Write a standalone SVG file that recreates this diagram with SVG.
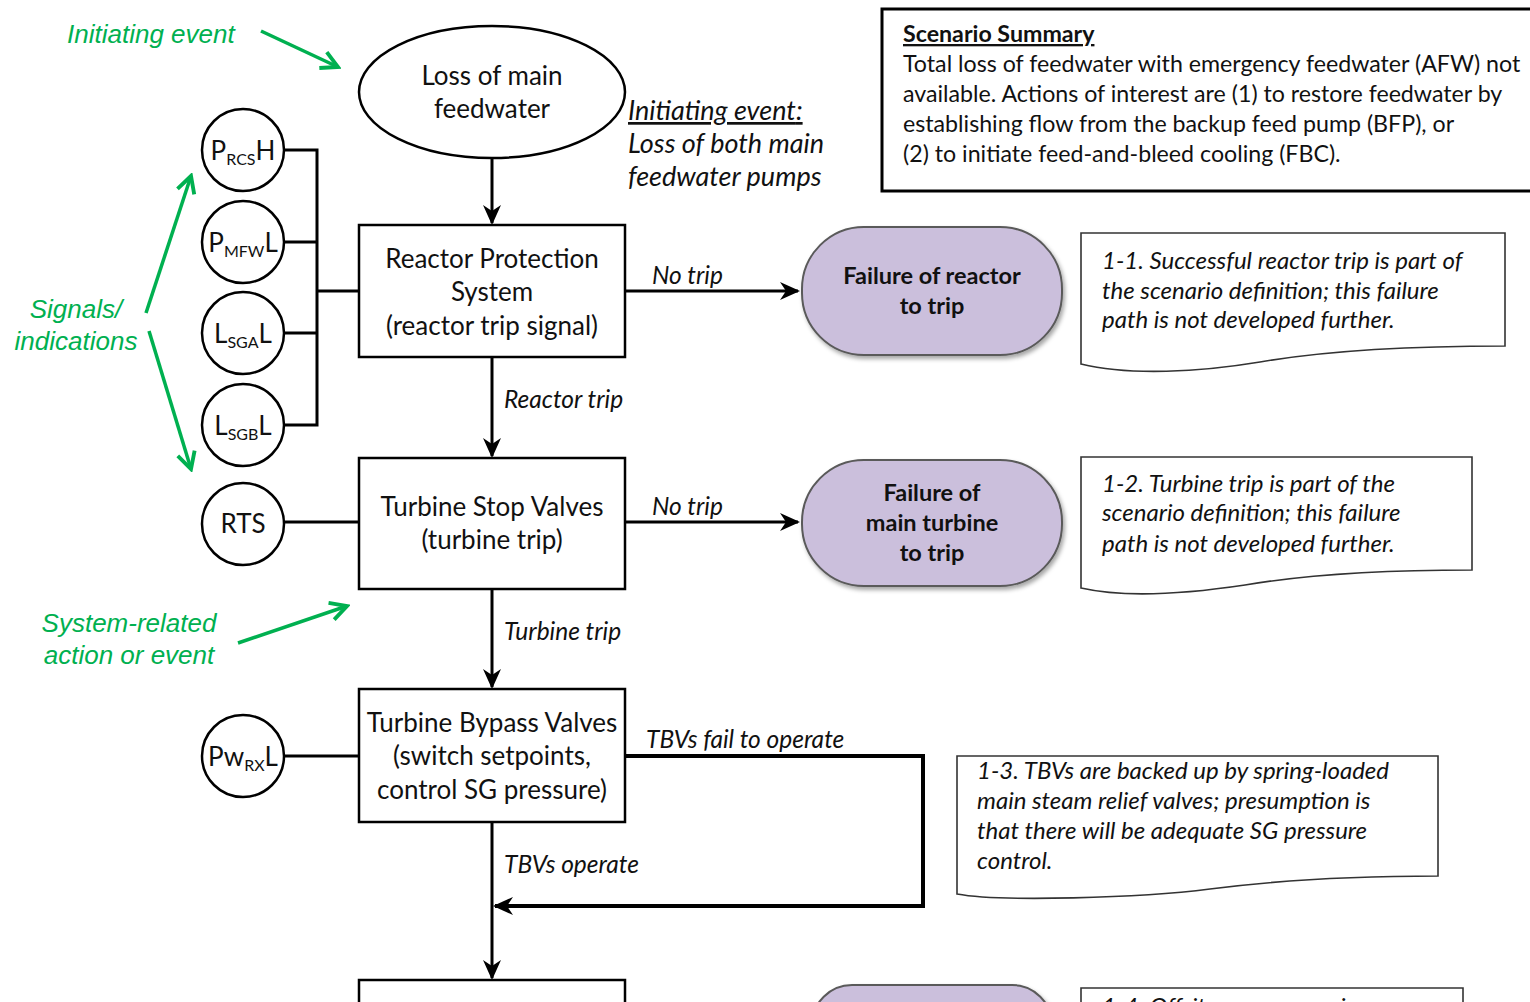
<svg xmlns="http://www.w3.org/2000/svg" width="1530" height="1002" viewBox="0 0 1530 1002">
  <defs>
    <marker id="arr" viewBox="0 0 20 20" refX="18" refY="10" markerWidth="20" markerHeight="20" markerUnits="userSpaceOnUse" orient="auto">
      <path d="M0,1 L20,10 L0,19 L6,10 Z" fill="#000"/>
    </marker>
    <marker id="garr" viewBox="0 0 20 20" refX="17" refY="10" markerWidth="22" markerHeight="22" markerUnits="userSpaceOnUse" orient="auto">
      <path d="M2,2 L17,10 L2,18" fill="none" stroke="#00b050" stroke-width="3.5"/>
    </marker>
    <filter id="shadow" x="-10%" y="-10%" width="125%" height="130%">
      <feDropShadow dx="2" dy="3" stdDeviation="2" flood-color="#000" flood-opacity="0.35"/>
    </filter>
  </defs>
  <style>
    .box { fill: #fff; stroke: #000; stroke-width: 2.5; }
    .doc { fill: #fff; stroke: #333; stroke-width: 1.6; }
    .fail { fill: #cbbfdc; stroke: #5a5a5a; stroke-width: 2; filter: url(#shadow); }
    .sig { fill: #fff; stroke: #000; stroke-width: 2.5; }
    .t { font-family: Lato, "Open Sans", sans-serif; font-size: 26px; fill: #111; text-anchor: middle; }
    .tb { font-family: Lato, "Open Sans", sans-serif; font-size: 23.5px; font-weight: bold; fill: #111; text-anchor: middle; }
    .it { font-family: Lato, "Open Sans", sans-serif; font-size: 24px; font-style: italic; fill: #111; }
    .lbl { font-size: 24.5px; }
    .ie { font-size: 27px; }
    .sum { font-family: Lato, "Open Sans", sans-serif; font-size: 23.2px; fill: #111; }
    .sub { font-size: 16px; }
    .g { font-family: "Liberation Sans", Arial, sans-serif; font-size: 26px; font-style: italic; fill: #00b050; }
    .line { fill: none; stroke: #000; stroke-width: 3; }
    .gline { fill: none; stroke: #00b050; stroke-width: 3.5; }
  </style>

  <!-- connectors -->
  <g id="connectors">
    <path class="line" d="M492,158 V223" marker-end="url(#arr)"/>
    <path class="line" d="M492,357 V456" marker-end="url(#arr)"/>
    <path class="line" d="M492,589 V687" marker-end="url(#arr)"/>
    <path class="line" d="M492,822 V978" marker-end="url(#arr)"/>
    <path class="line" d="M625,291 H798" marker-end="url(#arr)"/>
    <path class="line" d="M625,522 H798" marker-end="url(#arr)"/>
    <path class="line" style="stroke-width:4" d="M625,756 H923 V906 H495" marker-end="url(#arr)"/>
    <!-- signal bus -->
    <path class="line" d="M284,150 H317 V425 H284 M284,242 H317 M284,333 H317 M317,291 H359"/>
    <path class="line" d="M284,522 H359"/>
    <path class="line" d="M284,756 H359"/>
    <!-- annotation arrows -->
    <path class="gline" d="M261,31 L338,67" marker-end="url(#garr)"/>
    <path class="gline" d="M146,313 L191,176" marker-end="url(#garr)"/>
    <path class="gline" d="M149,331 L191,469" marker-end="url(#garr)"/>
    <path class="gline" d="M238,643 L347,606" marker-end="url(#garr)"/>
  </g>

  <!-- connector labels -->
  <g id="labels">
    <text class="it lbl" x="652" y="284">No trip</text>
    <text class="it lbl" x="652" y="515">No trip</text>
    <text class="it lbl" x="504" y="408">Reactor trip</text>
    <text class="it lbl" x="504" y="640">Turbine trip</text>
    <text class="it lbl" x="646" y="748">TBVs fail to operate</text>
    <text class="it lbl" x="504" y="873">TBVs operate</text>
  </g>

  <!-- main flow -->
  <g id="loss-of-feedwater">
    <ellipse cx="492" cy="92" rx="133" ry="66" fill="#fff" stroke="#000" stroke-width="2.5"/>
    <text class="t" x="492" y="85">Loss of main</text>
    <text class="t" x="492" y="118">feedwater</text>
  </g>
  <g id="reactor-protection">
    <rect class="box" x="359" y="225" width="266" height="132"/>
    <text class="t" x="492" y="268">Reactor Protection</text>
    <text class="t" x="492" y="301">System</text>
    <text class="t" x="492" y="335">(reactor trip signal)</text>
  </g>
  <g id="turbine-stop-valves">
    <rect class="box" x="359" y="458" width="266" height="131"/>
    <text class="t" x="492" y="516">Turbine Stop Valves</text>
    <text class="t" x="492" y="549">(turbine trip)</text>
  </g>
  <g id="turbine-bypass-valves">
    <rect class="box" x="359" y="689" width="266" height="133"/>
    <text class="t" x="492" y="732">Turbine Bypass Valves</text>
    <text class="t" x="492" y="765">(switch setpoints,</text>
    <text class="t" x="492" y="799">control SG pressure)</text>
  </g>
  <g id="next-step">
    <rect class="box" x="359" y="980" width="266" height="40"/>
  </g>

  <!-- failure paths -->
  <g id="fail-reactor-trip">
    <rect class="fail" x="802" y="227" width="260" height="128" rx="62" ry="62"/>
    <text class="tb" x="932" y="284">Failure of reactor</text>
    <text class="tb" x="932" y="314">to trip</text>
  </g>
  <g id="fail-turbine-trip">
    <rect class="fail" x="802" y="460" width="260" height="126" rx="62" ry="62"/>
    <text class="tb" x="932" y="501">Failure of</text>
    <text class="tb" x="932" y="531">main turbine</text>
    <text class="tb" x="932" y="561">to trip</text>
  </g>
  <g id="fail-next">
    <rect class="fail" x="812" y="985" width="240" height="100" rx="40" ry="40"/>
  </g>

  <!-- notes -->
  <g id="note-1-1">
    <path class="doc" d="M1081,233 H1505 V346 C1420,346 1330,350 1260,362 C1200,372 1130,376 1081,364 Z"/>
    <text class="it" x="1102" y="269">1-1. Successful reactor trip is part of</text>
    <text class="it" x="1102" y="299">the scenario definition; this failure</text>
    <text class="it" x="1102" y="328">path is not developed further.</text>
  </g>
  <g id="note-1-2">
    <path class="doc" d="M1081,457 H1472 V570 C1395,570 1310,574 1245,585 C1185,594 1125,598 1081,588 Z"/>
    <text class="it" x="1102" y="492">1-2. Turbine trip is part of the</text>
    <text class="it" x="1102" y="521">scenario definition; this failure</text>
    <text class="it" x="1102" y="552">path is not developed further.</text>
  </g>
  <g id="note-1-3">
    <path class="doc" d="M957,756 H1438 V876 C1360,876 1280,880 1210,889 C1140,898 1000,902 957,894 Z"/>
    <text class="it" x="977" y="779">1-3. TBVs are backed up by spring-loaded</text>
    <text class="it" x="977" y="809">main steam relief valves; presumption is</text>
    <text class="it" x="977" y="839">that there will be adequate SG pressure</text>
    <text class="it" x="977" y="869">control.</text>
  </g>
  <g id="note-1-4">
    <path class="doc" d="M1081,988 H1463 V1030 H1081 Z"/>
    <text class="it" x="1102" y="1015">1-4. Offsite power remains</text>
  </g>

  <!-- scenario summary -->
  <g id="scenario-summary">
    <rect x="882" y="9" width="660" height="182" fill="#fff" stroke="#000" stroke-width="3"/>
    <text class="sum" x="903" y="42" font-weight="bold" text-decoration="underline">Scenario Summary</text>
    <text class="sum" x="903" y="72">Total loss of feedwater with emergency feedwater (AFW) not</text>
    <text class="sum" x="903" y="102">available. Actions of interest are (1) to restore feedwater by</text>
    <text class="sum" x="903" y="132">establishing flow from the backup feed pump (BFP), or</text>
    <text class="sum" x="903" y="162">(2) to initiate feed-and-bleed cooling (FBC).</text>
  </g>

  <!-- initiating event note -->
  <g id="initiating-note">
    <text class="it ie" x="628" y="120" text-decoration="underline">Initiating event<tspan text-decoration="none">:</tspan></text>
    <text class="it ie" x="628" y="153">Loss of both main</text>
    <text class="it ie" x="628" y="186">feedwater pumps</text>
  </g>

  <!-- signal indicators -->
  <g id="sig-prcs-h">
    <circle class="sig" cx="243" cy="150" r="41"/>
    <text class="t" x="243" y="160" font-size="25">P<tspan class="sub" dy="5">RCS</tspan><tspan dy="-5">H</tspan></text>
  </g>
  <g id="sig-pmfw-l">
    <circle class="sig" cx="243" cy="242" r="41"/>
    <text class="t" x="243" y="252" font-size="25">P<tspan class="sub" dy="5">MFW</tspan><tspan dy="-5">L</tspan></text>
  </g>
  <g id="sig-lsga-l">
    <circle class="sig" cx="243" cy="333" r="41"/>
    <text class="t" x="243" y="343" font-size="25">L<tspan class="sub" dy="5">SGA</tspan><tspan dy="-5">L</tspan></text>
  </g>
  <g id="sig-lsgb-l">
    <circle class="sig" cx="243" cy="425" r="41"/>
    <text class="t" x="243" y="435" font-size="25">L<tspan class="sub" dy="5">SGB</tspan><tspan dy="-5">L</tspan></text>
  </g>
  <g id="sig-rts">
    <circle class="sig" cx="243" cy="524" r="41"/>
    <text class="t" x="243" y="533" font-size="25">RTS</text>
  </g>
  <g id="sig-pwrx-l">
    <circle class="sig" cx="243" cy="756" r="41"/>
    <text class="t" x="243" y="766" font-size="25">Pw<tspan class="sub" dy="5">RX</tspan><tspan dy="-5">L</tspan></text>
  </g>

  <!-- legend annotations -->
  <g id="legend">
    <text class="g" x="67" y="43">Initiating event</text>
    <text class="g" x="76" y="318" text-anchor="middle">Signals/</text>
    <text class="g" x="76" y="350" text-anchor="middle">indications</text>
    <text class="g" x="129" y="632" text-anchor="middle">System-related</text>
    <text class="g" x="129" y="664" text-anchor="middle">action or event</text>
  </g>
</svg>
